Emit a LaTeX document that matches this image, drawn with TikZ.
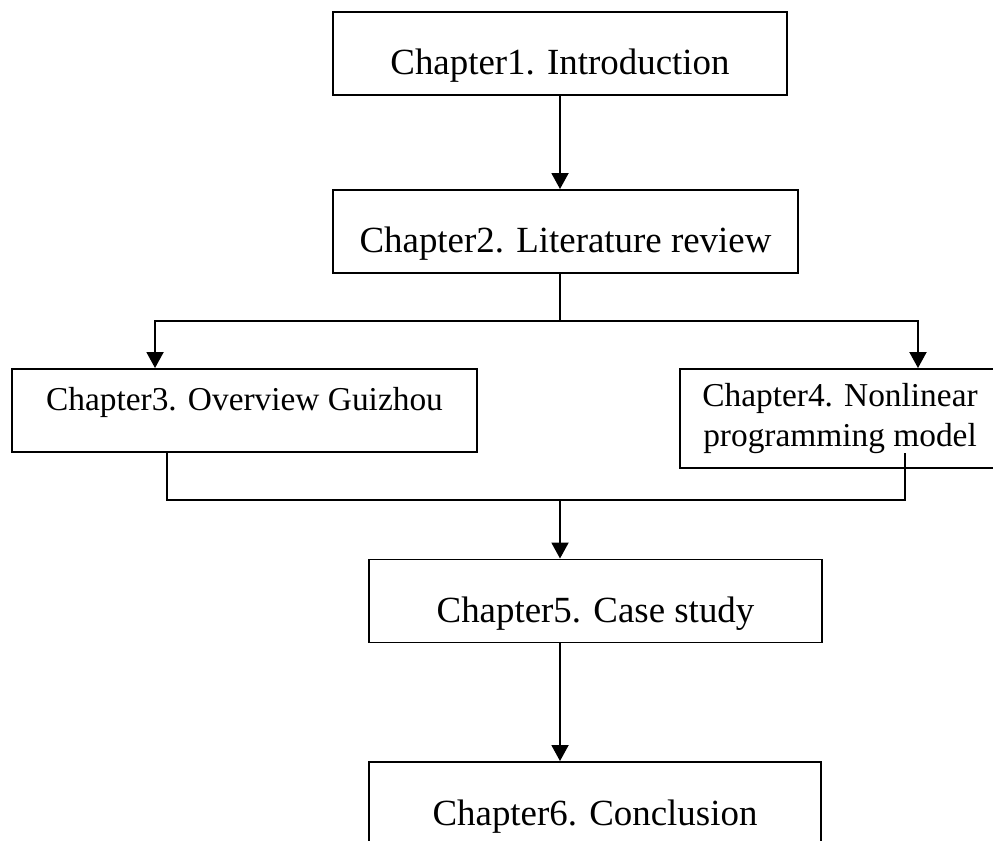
\documentclass[tikz,border=0pt]{standalone}
\usepackage{fontspec}
\setmainfont{Liberation Serif}
\usetikzlibrary{arrows.meta}
\begin{document}
\begin{tikzpicture}[x=0.02cm, y=-0.02cm,
  box/.style={draw, line width=1.1pt, inner sep=0pt},
  chap/.style={box, font=\fontsize{21}{25}\selectfont, text height=1.26cm, text depth=0.40cm},
  link/.style={line width=1.1pt},
  arr/.style={link, -{Triangle[length=0.32cm,width=0.34cm]}}]
\useasboundingbox (0,0) rectangle (993,841);
\clip (0,0) rectangle (993,841);
\node[chap,minimum width=9.08cm] (ch1) at (560,53.5) {Chapter1. Introduction};
\node[chap,minimum width=9.30cm] (ch2) at (565.5,231.5) {Chapter2. Literature review};
\node[box,minimum width=9.30cm,font=\fontsize{19}{23}\selectfont,text height=0.82cm,text depth=0.84cm] (ch3) at (244.5,410.5) {Chapter3. Overview Guizhou};
\node[box,minimum width=6.4cm,minimum height=1.98cm,font=\fontsize{19}{23.3}\selectfont,align=center] (ch4) at (840,418.5) {Chapter4. Nonlinear\\programming model};
\node[chap,minimum width=9.06cm] (ch5) at (595.5,601) {Chapter5. Case study};
\node[chap,minimum width=9.04cm] (ch6) at (595,803.5) {Chapter6. Conclusion};
\coordinate (fork) at (560,321); \coordinate (join) at (560,500);
\coordinate (tap) at ([xshift=1.3cm,yshift=0.32cm]ch4.south);
\draw[arr] (ch1.south) -- (ch1.south |- ch2.north);
\draw[link] (fork |- ch2.south) -- (fork);
\draw[arr] (fork) -| ([xshift=-1.79cm]ch3.north);
\draw[arr] (fork) -| ([xshift=1.56cm]ch4.north);
\draw[link] ([xshift=-1.55cm]ch3.south) |- (join) -| (tap);
\draw[arr] (join) -- (join |- ch5.north);
\draw[arr] (join |- ch5.south) -- (join |- ch6.north);
\end{tikzpicture}
\end{document}
